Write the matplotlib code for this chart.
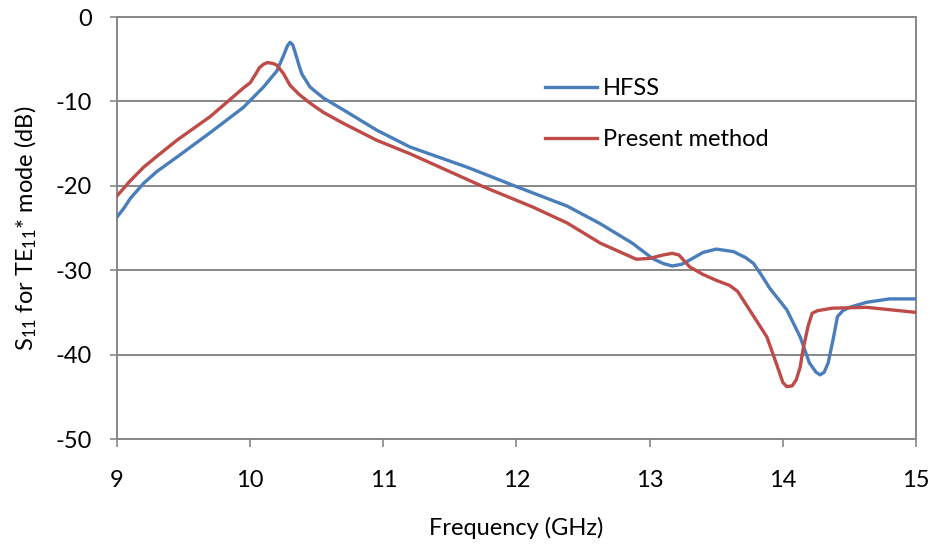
import matplotlib
matplotlib.use("Agg")
import matplotlib.pyplot as plt

plt.rcParams['font.family'] = ['Lato', 'DejaVu Sans']
plt.rcParams['mathtext.fontset'] = 'custom'
plt.rcParams['mathtext.rm'] = 'Lato'
plt.rcParams['mathtext.it'] = 'Lato'

# HFSS simulation
hfss_f = [9.0, 9.05, 9.1, 9.2, 9.3, 9.45, 9.7, 9.95, 10.1, 10.2, 10.25, 10.28, 10.3, 10.32,
          10.34, 10.37, 10.39, 10.45, 10.55, 10.7, 10.95, 11.2, 11.63, 12.0, 12.38, 12.63,
          12.87, 13.02, 13.1, 13.17, 13.24, 13.3, 13.4, 13.5, 13.63, 13.72, 13.78, 13.84,
          13.9, 14.03, 14.13, 14.2, 14.25, 14.28, 14.31, 14.34, 14.38, 14.41, 14.45, 14.5,
          14.63, 14.8, 15.0]
hfss_s11 = [-23.7, -22.7, -21.5, -19.7, -18.3, -16.6, -13.7, -10.7, -8.3, -6.4, -4.6, -3.4,
            -3.0, -3.3, -4.3, -5.9, -6.8, -8.3, -9.6, -11.0, -13.4, -15.4, -17.8, -20.1,
            -22.4, -24.5, -26.8, -28.6, -29.2, -29.5, -29.3, -28.8, -27.9, -27.5, -27.8,
            -28.5, -29.2, -30.6, -32.1, -34.7, -37.9, -41.0, -42.1, -42.4, -42.1, -41.0,
            -38.0, -35.5, -34.8, -34.4, -33.8, -33.4, -33.4]

# present method
pm_f = [9.0, 9.1, 9.2, 9.3, 9.45, 9.7, 9.95, 10.0, 10.04, 10.07, 10.1, 10.13, 10.17, 10.2,
        10.25, 10.3, 10.37, 10.45, 10.55, 10.7, 10.95, 11.2, 11.75, 12.12, 12.38, 12.63,
        12.9, 13.0, 13.1, 13.17, 13.22, 13.26, 13.3, 13.4, 13.5, 13.6, 13.66, 13.75, 13.88,
        13.95, 14.0, 14.03, 14.07, 14.1, 14.13, 14.15, 14.19, 14.22, 14.26, 14.37, 14.63,
        15.0]
pm_s11 = [-21.2, -19.4, -17.8, -16.5, -14.6, -11.8, -8.4, -7.8, -6.8, -6.0, -5.6, -5.4,
          -5.5, -5.7, -6.7, -8.1, -9.2, -10.2, -11.3, -12.6, -14.6, -16.2, -20.1, -22.5,
          -24.4, -26.8, -28.7, -28.6, -28.2, -28.0, -28.2, -28.9, -29.6, -30.5, -31.2,
          -31.8, -32.5, -34.7, -37.9, -41.0, -43.3, -43.8, -43.7, -43.0, -41.5, -39.5,
          -36.6, -35.1, -34.8, -34.5, -34.4, -35.0]

x_ticks = [9, 10, 11, 12, 13, 14, 15]
y_ticks = [0, -10, -20, -30, -40, -50]

grey = '#878787'

fig = plt.figure(figsize=(9.35, 5.52), dpi=100)
ax = fig.add_axes([0.1251, 0.2047, 0.8546, 0.7645])

for y in y_ticks:
    ax.axhline(y, color=grey, lw=1.4, zorder=1)

ax.plot(hfss_f, hfss_s11, color='#4A7EBB', lw=2.4, label='HFSS', zorder=3,
        solid_joinstyle='round')
ax.plot(pm_f, pm_s11, color='#BE4B48', lw=2.4, label='Present method', zorder=3,
        solid_joinstyle='round')

ax.set_xlim(9, 15)
ax.set_ylim(-50, 0)
ax.set_xticks(x_ticks)
ax.set_yticks(y_ticks)
ax.set_xticklabels([str(v) for v in x_ticks])
ax.set_yticklabels([str(v) for v in y_ticks])

for side in ['left', 'right', 'top', 'bottom']:
    ax.spines[side].set_color(grey)
    ax.spines[side].set_linewidth(1.4)

ax.tick_params(axis='x', direction='out', length=6, width=1.2, color=grey,
               labelsize=17, pad=16, labelcolor='black')
ax.tick_params(axis='y', direction='out', length=5, width=1.2, color=grey,
               labelsize=17, pad=13, labelcolor='black')

ax.set_xlabel('Frequency (GHz)', fontsize=17, labelpad=19)
ax.set_ylabel(r'S$_{11}$ for TE$_{11}$* mode (dB)', fontsize=17, labelpad=12)

ax.legend(loc='upper left', bbox_to_anchor=(0.509, 0.906), frameon=False,
          fontsize=17, handlelength=2.2, handletextpad=0.25, labelspacing=1.28)

fig.savefig('out.png', dpi=100)
